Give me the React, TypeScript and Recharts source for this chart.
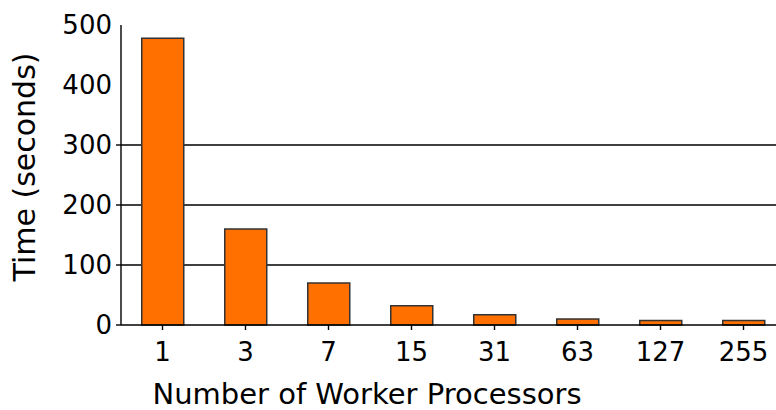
import React from 'react';
import { BarChart, Bar, XAxis, YAxis, CartesianGrid } from 'recharts';

const categories = ['1', '3', '7', '15', '31', '63', '127', '255'];
const timeSeconds = [478, 160, 70, 32, 17, 10, 7.5, 7.5];
const yTicks = [0, 100, 200, 300, 400, 500];
const gridValues = [100, 200, 300];

const data = categories.map((c, i) => ({ workers: c, time: timeSeconds[i] }));

const FONT = '"DejaVu Sans", sans-serif';
const TICK_SIZE = 5;
const TICK_MARGIN = 4;

const YTick = (props: any) => {
  const { x, y, payload } = props;
  const v = payload.value;
  return (
    <g>
      {v <= 300 ? (
        <line x1={x + TICK_MARGIN} x2={x + TICK_MARGIN + TICK_SIZE} y1={y} y2={y} stroke="#000" strokeWidth={1.4} />
      ) : null}
      <text x={x} y={y} dy="0.355em" textAnchor="end" fontFamily={FONT} fontSize={26} fill="#000">
        {v}
      </text>
    </g>
  );
};

export default function App() {
  return (
    <div style={{ position: 'absolute', left: 0, top: 0, width: 776, height: 410, overflow: 'hidden', background: '#fff' }}>
      <BarChart
        width={800}
        height={410}
        data={data}
        margin={{ top: 25, right: 15, left: 0, bottom: 0 }}
        barCategoryGap="25%"
      >
        <CartesianGrid vertical={false} horizontalValues={gridValues} stroke="#000" strokeWidth={1.4} />
        <XAxis
          dataKey="workers"
          height={85}
          tickSize={TICK_SIZE}
          tickMargin={13}
          axisLine={{ stroke: '#000', strokeWidth: 1.4 }}
          tickLine={{ stroke: '#000', strokeWidth: 1.4 }}
          tick={{ fontFamily: FONT, fontSize: 26, fill: '#000' }}
          label={{
            value: 'Number of Worker Processors',
            position: 'insideBottom',
            offset: 6,
            dx: -86,
            style: { fontFamily: FONT, fontSize: 29, fill: '#000' },
          }}
        />
        <YAxis
          width={121}
          domain={[0, 500]}
          ticks={yTicks}
          interval={0}
          tickSize={TICK_SIZE}
          tickMargin={TICK_MARGIN}
          tickLine={false}
          axisLine={{ stroke: '#000', strokeWidth: 1.4 }}
          tick={<YTick />}
          label={{
            value: 'Time (seconds)',
            angle: -90,
            position: 'center',
            dx: -36,
            dy: -8,
            style: { fontFamily: FONT, fontSize: 30, fill: '#000' },
          }}
        />
        <Bar dataKey="time" fill="#ff7000" stroke="#333" strokeWidth={1.5} isAnimationActive={false} />
      </BarChart>
    </div>
  );
}
